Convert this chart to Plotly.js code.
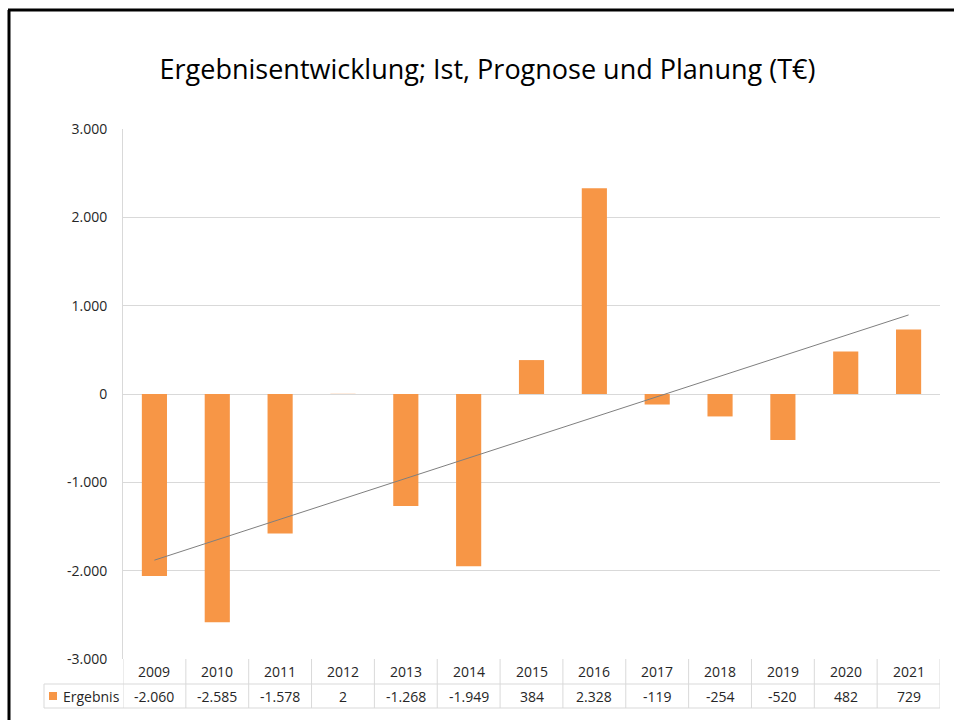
<!DOCTYPE html>
<html>
<head>
<meta charset="utf-8">
<script src="https://cdn.plot.ly/plotly-3.0.1.min.js"></script>
<style>html,body{margin:0;padding:0;background:#fff;}#chart{width:954px;height:720px;}</style>
</head>
<body>
<div id="chart"></div>
<script>
// ---- data ----
const years = ['2009','2010','2011','2012','2013','2014','2015','2016','2017','2018','2019','2020','2021'];
const ergebnis = [-2060, -2585, -1578, 2, -1268, -1949, 384, 2328, -119, -254, -520, 482, 729];
const trendYears = ['2009', '2021'];
const trendValues = [-1881, 895];
const yTickValues = [-3000, -2000, -1000, 0, 1000, 2000, 3000];
const seriesName = 'Ergebnis';
const titleText = 'Ergebnisentwicklung; Ist, Prognose und Planung (T€)';

// ---- helpers ----
function fmt(v) {
  const s = Math.abs(Math.round(v)).toString().replace(/\B(?=(\d{3})+(?!\d))/g, '.');
  return (v < 0 ? '-' : '') + s;
}
const W = 954, H = 720;
const M = {l: 123, r: 14, t: 129, b: 61};
const PW = W - M.l - M.r, PH = H - M.t - M.b;
const px = x => (x - M.l) / PW;           // pixel -> paper x
const py = y => (H - M.b - y) / PH;       // pixel -> paper y

const FONT = '"Liberation Sans Narrow", "Open Sans", Arial, sans-serif';
const orange = '#F79646';
const gridCol = '#D9D9D9';
const n = years.length;
const idx = years.map((_, i) => i);

const shapes = [];
const annotations = [];
// outer frame (left and top edges only visible)
shapes.push({type: 'line', xref: 'paper', yref: 'paper', x0: px(9), x1: px(9), y0: py(10), y1: py(730), line: {color: '#000', width: 3}});
shapes.push({type: 'line', xref: 'paper', yref: 'paper', x0: px(8), x1: px(960), y0: py(10), y1: py(10), line: {color: '#000', width: 3}});

// data table lines
for (let i = 0; i <= n; i++) {
  shapes.push({type: 'line', xref: 'x', yref: 'paper', x0: i - 0.5, x1: i - 0.5, y0: py(659), y1: py(708), line: {color: gridCol, width: 1}});
}
shapes.push({type: 'line', xref: 'paper', yref: 'paper', x0: px(44), x1: px(44), y0: py(684), y1: py(708), line: {color: gridCol, width: 1}});
shapes.push({type: 'line', xref: 'paper', yref: 'paper', x0: px(44), x1: 1, y0: py(684), y1: py(684), line: {color: gridCol, width: 1}});
shapes.push({type: 'line', xref: 'paper', yref: 'paper', x0: px(44), x1: 1, y0: py(708), y1: py(708), line: {color: gridCol, width: 1}});
// legend key square
shapes.push({type: 'rect', xref: 'paper', yref: 'paper', x0: px(49), x1: px(57), y0: py(692), y1: py(700), fillcolor: orange, line: {width: 0}});
annotations.push({xref: 'paper', yref: 'paper', x: px(61), y: py(696), text: seriesName, showarrow: false, xanchor: 'left', yanchor: 'middle', font: {family: FONT, size: 14, color: '#262626'}});

years.forEach((yr, i) => {
  annotations.push({xref: 'x', yref: 'paper', x: i, y: py(671.5), text: yr, showarrow: false, xanchor: 'center', yanchor: 'middle', font: {family: FONT, size: 14, color: '#262626'}});
  annotations.push({xref: 'x', yref: 'paper', x: i, y: py(696), text: fmt(ergebnis[i]), showarrow: false, xanchor: 'center', yanchor: 'middle', font: {family: FONT, size: 14, color: '#262626'}});
});

const traces = [
  {type: 'bar', x: idx, y: ergebnis, name: seriesName, marker: {color: orange}, width: 0.4, hoverinfo: 'y'},
  {type: 'scatter', mode: 'lines', x: trendYears.map(y => years.indexOf(y)), y: trendValues, line: {color: '#7F7F7F', width: 1}, hoverinfo: 'skip'}
];

const layout = {
  width: W, height: H,
  margin: M,
  paper_bgcolor: '#fff', plot_bgcolor: '#fff',
  showlegend: false,
  title: {text: titleText, x: 0.511, xanchor: 'center', y: 1 - 70 / H, yanchor: 'middle', font: {family: FONT, size: 27, color: '#000'}},
  xaxis: {range: [-0.5, n - 0.5], showticklabels: false, showgrid: false, zeroline: false, showline: false, ticks: '', fixedrange: true},
  yaxis: {range: [-3000, 3000], tickvals: yTickValues, ticktext: yTickValues.map(fmt), showgrid: true, gridcolor: gridCol, gridwidth: 1,
          zeroline: true, zerolinecolor: gridCol, zerolinewidth: 1, showline: true, linecolor: gridCol, linewidth: 1, ticks: '',
          ticklabelstandoff: 12, tickfont: {family: FONT, size: 14, color: '#262626'}, fixedrange: true},
  shapes: shapes,
  annotations: annotations
};

Plotly.newPlot('chart', traces, layout, {displayModeBar: false, staticPlot: true});
</script>
</body>
</html>
